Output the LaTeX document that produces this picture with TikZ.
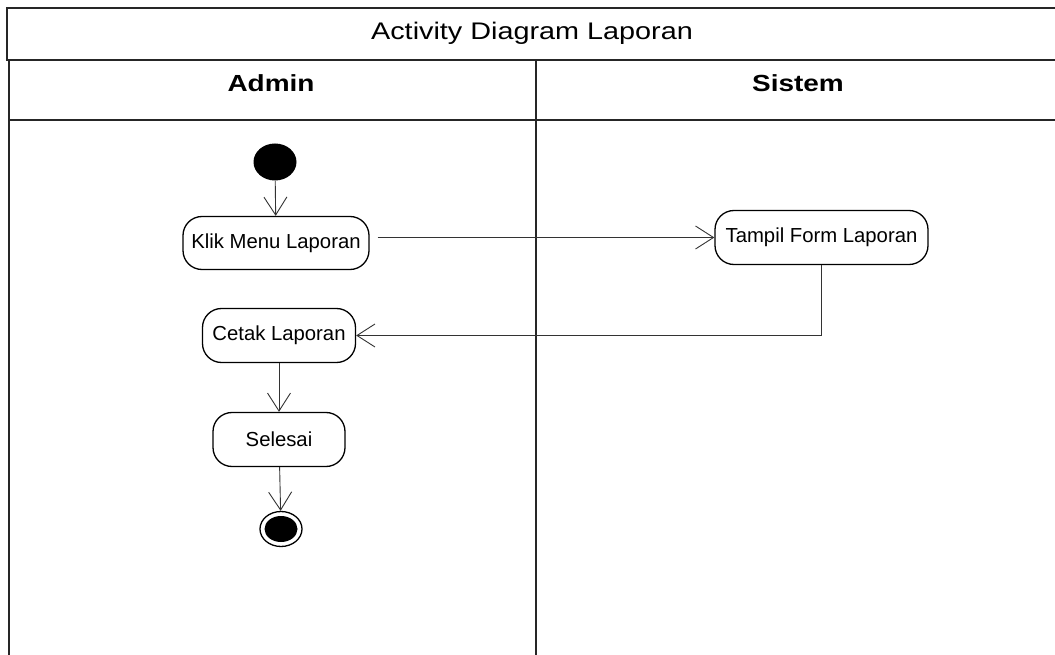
\documentclass[tikz,border=0pt]{standalone}
\usepackage{fontspec}
\setmainfont{Liberation Sans}
\newfontfamily\wideFont[FakeStretch=1.2]{Liberation Sans}
\usetikzlibrary{arrows.meta,shapes.geometric}
\begin{document}
\begin{tikzpicture}[x=1pt,y=-1pt,
 lane/.style={line width=1.6pt, draw=black!85},
 act/.style={draw=black, line width=1.3pt, rounded corners=19pt, align=center,
   font=\fontsize{20.3}{24}\selectfont, inner sep=0pt, fill=white},
 flow/.style={draw=black!80, line width=0.9pt, -{Straight Barb[length=18pt,width=23pt]}},
 titletext/.style={font=\wideFont\fontsize{24}{28}\selectfont, anchor=base, inner sep=0pt},
 headtext/.style={font=\wideFont\bfseries\fontsize{23.3}{28}\selectfont, anchor=base, inner sep=0pt},
 ]
\clip (0,0) rectangle (1055,655);
\fill[white] (0,0) rectangle (1055,655);
% frame and swimlanes
\draw[lane] (1070,8) -- (7,8) -- (7,60) -- (1070,60);
\draw[lane] (9,60) -- (9,670);
\draw[lane] (9,120) -- (1070,120);
\draw[lane] (536,60) -- (536,670);
\node[titletext] (title) at (532,40) {Activity Diagram Laporan};
\node[headtext] (admin) at (271,91.3) {Admin};
\node[headtext] (sistem) at (798,91.3) {Sistem};
% activities
\node[ellipse, fill=black, minimum width=43pt, minimum height=37pt, inner sep=0pt] (start) at (275,162) {};
\node[act, minimum width=186pt, minimum height=53pt] (klik) at (276,243) {Klik Menu Laporan};
\node[act, minimum width=213pt, minimum height=54pt] (tampil) at (821.5,237.5) {Tampil Form Laporan};
\node[act, minimum width=153pt, minimum height=54pt] (cetak) at (279,335.5) {Cetak Laporan};
\node[act, minimum width=132pt, minimum height=54pt] (selesai) at (279,439.5) {Selesai};
\node[ellipse, draw=black, line width=1.3pt, minimum width=42pt, minimum height=35pt, inner sep=0pt] (end) at (281,529) {};
\node[ellipse, fill=black, minimum width=33pt, minimum height=26pt, inner sep=0pt] (endin) at (end.center) {};
% flows
\draw[flow] (start) -- (klik);
\draw[flow, shorten <=8pt] (klik.east |- tampil.west) -- (tampil.west);
\draw[flow] (tampil.south) |- (cetak.east);
\draw[flow] (cetak) -- (selesai);
\draw[flow] (selesai) -- (end);
\end{tikzpicture}
\end{document}
